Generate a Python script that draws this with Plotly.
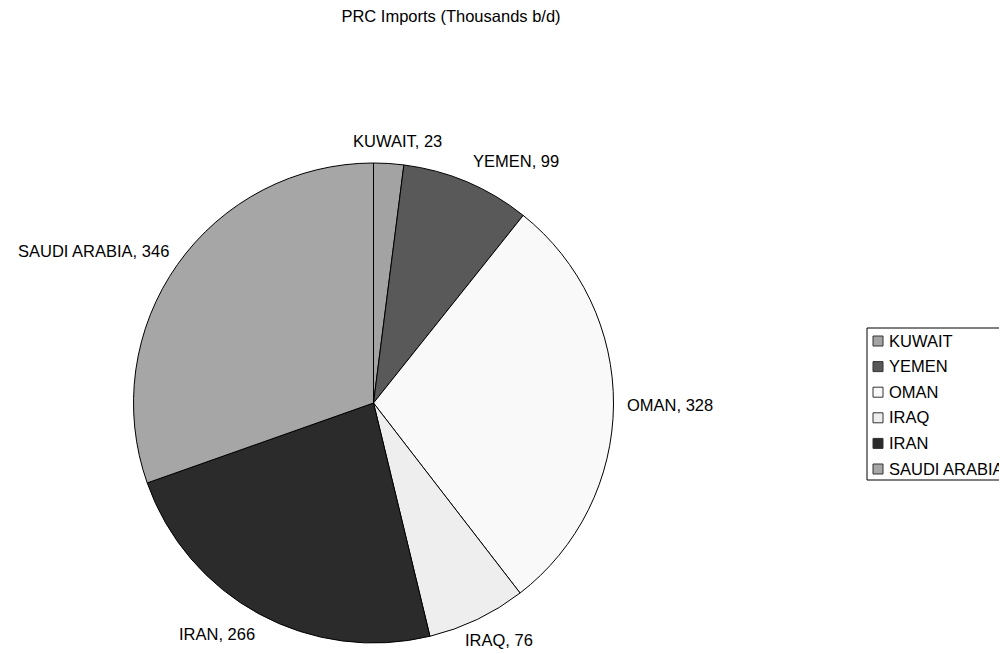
import math
import plotly.graph_objects as go

countries = ["KUWAIT", "YEMEN", "OMAN", "IRAQ", "IRAN", "SAUDI ARABIA"]
imports = [23, 99, 328, 76, 266, 346]
colors = ["#a3a3a3", "#595959", "#f9f9f9", "#eeeeee", "#2b2b2b", "#a6a6a6"]
title_text = "PRC Imports (Thousands b/d)"

FONT = "Liberation Sans, Arial, sans-serif"
FS = 16.5
W, H = 1007, 654
OFF = 8  # page body margin

# Arial / Liberation Sans advance widths (per 1000 em)
AW = {c: 667 for c in "ABEKPSVXY"}
AW.update({c: 722 for c in "CDHNRU"})
AW.update({"F": 611, "G": 778, "I": 278, "J": 500, "L": 556, "M": 833, "O": 778,
           "Q": 778, "T": 611, "W": 944, "Z": 611, ",": 278, " ": 278})
AW.update({d: 556 for d in "0123456789"})


def text_width(t, size):
    return sum(AW.get(ch, 600) for ch in t) / 1000 * size


def px_x(x):
    return (x - OFF) / W


def px_y(y):
    return 1 - (y - OFF) / H


# pie placement (page pixels)
cx, cy, r = 373.5, 403, 240
dom_x = [px_x(cx - r), px_x(cx + r)]
dom_y = [px_y(cy + r), px_y(cy - r)]

fig = go.Figure(go.Pie(
    labels=countries,
    values=imports,
    sort=False,
    direction="clockwise",
    rotation=0,
    marker=dict(colors=colors, line=dict(color="black", width=1)),
    textinfo="none",
    domain=dict(x=dom_x, y=dom_y),
    hoverinfo="label+value",
    showlegend=False,
))

# outside-end data labels along each slice's mid angle
total = sum(imports)
cum = 0
R = 252
for name, v in zip(countries, imports):
    mid = (cum + v / 2) / total * 2 * math.pi
    cum += v
    s, c = math.sin(mid), math.cos(mid)
    px, py = cx + R * s, cy - R * c
    text = f"{name}, {v}"
    w = text_width(text, FS)
    k = 1.0 if (c < 0 and s > 0) else 0.4
    xfrac = 0.5 - 0.5 * max(-1, min(1, s / k))   # 0 = left edge at the point
    left = px - xfrac * w
    ycen = py - c * 11
    fig.add_annotation(
        x=px_x(left), y=px_y(ycen), xref="paper", yref="paper",
        text=text, showarrow=False, xanchor="left", yanchor="middle",
        font=dict(family=FONT, size=FS, color="black"),
    )

# legend box (drawn like the original, partly beyond the right edge)
LX0, LY0, LY1 = 867, 328, 480
fig.add_shape(type="rect", xref="paper", yref="paper",
              x0=px_x(LX0), x1=px_x(1030), y0=px_y(LY1), y1=px_y(LY0),
              line=dict(color="black", width=1), fillcolor="white", layer="below")
pitch = 25.6
for i, (name, col) in enumerate(zip(countries, colors)):
    yc = 340.5 + i * pitch
    fig.add_shape(type="rect", xref="paper", yref="paper",
                  x0=px_x(873), x1=px_x(883), y0=px_y(yc + 5.5), y1=px_y(yc - 4.5),
                  line=dict(color="#333333", width=1), fillcolor=col)
    fig.add_annotation(x=px_x(887), y=px_y(yc), xref="paper", yref="paper",
                       text=name, showarrow=False, xanchor="left", yanchor="middle",
                       font=dict(family=FONT, size=FS, color="black"))

fig.update_layout(
    width=W, height=H,
    margin=dict(l=0, r=0, t=0, b=0),
    paper_bgcolor="white",
    plot_bgcolor="white",
    title=dict(text=title_text, x=px_x(451), xanchor="center",
               y=px_y(16), yanchor="middle",
               font=dict(family=FONT, size=FS, color="black")),
    showlegend=False,
)

fig.write_html("out.html")
